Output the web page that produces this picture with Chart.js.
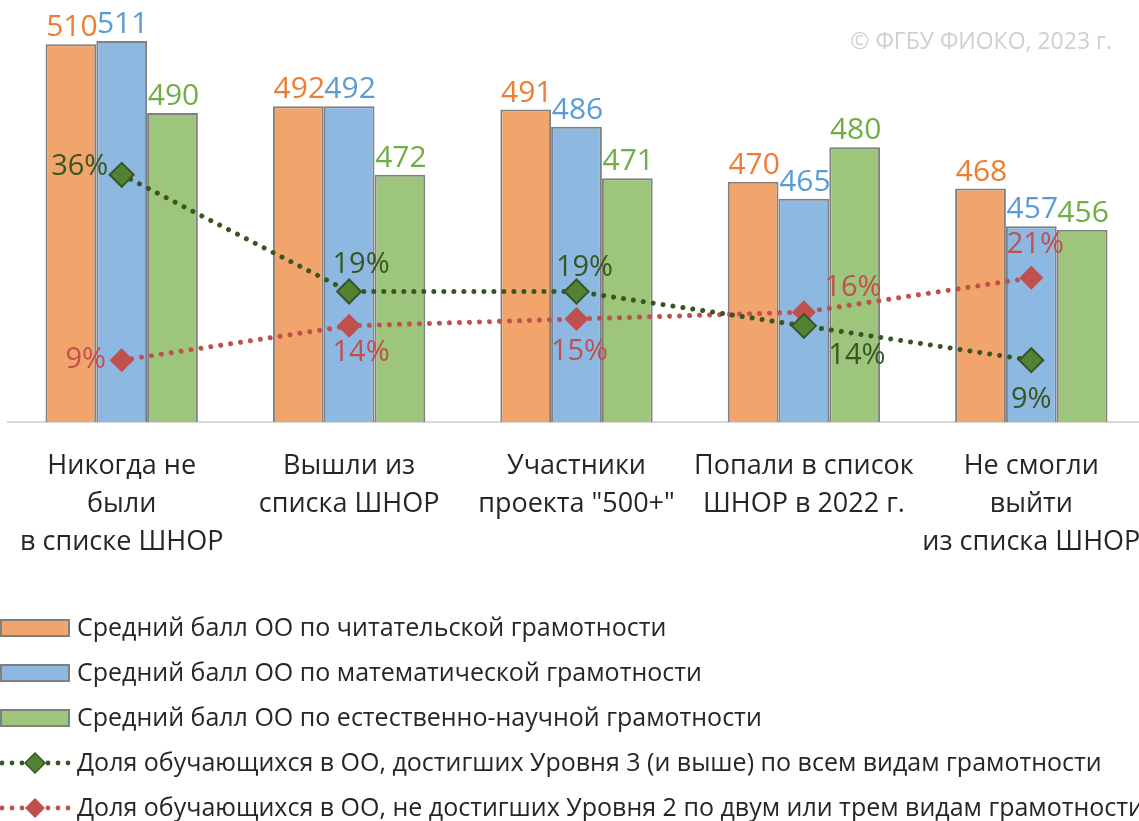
<!DOCTYPE html>
<html><head><meta charset="utf-8">
<script src="https://cdn.jsdelivr.net/npm/chart.js@4.4.0/dist/chart.umd.min.js"></script>
<style>
html,body{margin:0;padding:0;overflow:hidden;background:#fff;width:1139px;height:821px;}
#wrap{position:absolute;left:0;top:0;width:1145px;height:821px;}
</style></head>
<body>
<div id="wrap"><canvas id="c" width="1145" height="821" style="width:1145px;height:821px"></canvas></div>
<script>
const categories = [
  ["Никогда не", "были", "в списке ШНОР"],
  ["Вышли из", "списка ШНОР"],
  ["Участники", "проекта \"500+\""],
  ["Попали в список", "ШНОР в 2022 г."],
  ["Не смогли", "выйти", "из списка ШНОР"]
];
const readingScores = [510, 492, 491, 470, 468];
const mathScores = [511, 492, 486, 465, 457];
const scienceScores = [490, 472, 471, 480, 456];
const level3Share = [36, 19, 19, 14, 9];
const belowLevel2Share = [9, 14, 15, 16, 21];
const seriesNames = [
  "Средний балл ОО по читательской грамотности",
  "Средний балл ОО по математической грамотности",
  "Средний балл ОО по естественно-научной грамотности",
  "Доля обучающихся в ОО, достигших Уровня 3 (и выше) по всем видам грамотности",
  "Доля обучающихся в ОО, не достигших Уровня 2 по двум или трем видам грамотности"
];

const FONT = "'Open Sans', 'Noto Sans', sans-serif";
const barFill = ['#F2A46D', '#8DB8E2', '#9DC57B'];
const valueColors = ['#ED7D31', '#5B9BD5', '#70AD47'];
const greenLine = '#375623', greenFill = '#548235';
const redLine = '#C0504D';
const barBorder = '#808080';

// label offsets (dx, dy for text centre relative to point)
const pctOffsets = {
  3: [[-42, -8], [12, -27], [8, -24], [53, 30], [0, 40]],
  4: [[-36, 0], [12, 27], [3, 33], [49, -24], [4, -33]]
};

const labelPlugin = {
  id: 'labels',
  afterDatasetsDraw(chart) {
    const ctx = chart.ctx;
    ctx.save();
    ctx.textAlign = 'center';
    ctx.textBaseline = 'alphabetic';
    ctx.font = '30px ' + FONT;
    for (let d = 0; d < 3; d++) {
      const meta = chart.getDatasetMeta(d);
      ctx.fillStyle = valueColors[d];
      meta.data.forEach((el, i) => {
        ctx.fillText(String(chart.data.datasets[d].data[i]), el.x + 1, el.y - 8);
      });
    }
    ctx.textBaseline = 'middle';
    ctx.font = '29px ' + FONT;
    for (const d of [3, 4]) {
      const meta = chart.getDatasetMeta(d);
      ctx.fillStyle = d === 3 ? greenLine : redLine;
      meta.data.forEach((el, i) => {
        const o = pctOffsets[d][i];
        ctx.fillText(chart.data.datasets[d].data[i] + '%', el.x + o[0], el.y + o[1]);
      });
    }
    // copyright
    ctx.font = '23px ' + FONT;
    ctx.fillStyle = '#CFCFCF';
    ctx.textAlign = 'right';
    ctx.fillText('© ФГБУ ФИОКО, 2023 г.', 1112, 42);
    // legend
    ctx.textAlign = 'left';
    ctx.font = '25px ' + FONT;
    const ys = [628, 673, 718, 763, 808];
    for (let k = 0; k < 5; k++) {
      const y = ys[k];
      if (k < 3) {
        ctx.fillStyle = barFill[k];
        ctx.fillRect(1, y - 8, 68, 16);
        ctx.strokeStyle = barBorder;
        ctx.lineWidth = 2;
        ctx.strokeRect(1, y - 8, 68, 16);
      } else {
        const col = k === 3 ? greenLine : redLine;
        ctx.fillStyle = col;
        for (const x of [2, 12, 22, 48, 58, 68]) {
          ctx.beginPath(); ctx.arc(x, y, 2.4, 0, Math.PI * 2); ctx.fill();
        }
        ctx.beginPath();
        ctx.moveTo(35, y - 10); ctx.lineTo(45, y); ctx.lineTo(35, y + 10); ctx.lineTo(25, y); ctx.closePath();
        ctx.fillStyle = k === 3 ? greenFill : redLine;
        ctx.fill();
        if (k === 3) { ctx.strokeStyle = greenLine; ctx.lineWidth = 1.5; ctx.stroke(); }
      }
      ctx.fillStyle = '#262626';
      ctx.fillText(seriesNames[k], 77, y + 1);
    }
    ctx.restore();
  }
};

const barDs = (i, data) => ({
  type: 'bar', label: seriesNames[i], data, yAxisID: 'y',
  backgroundColor: barFill[i], borderColor: barBorder, borderWidth: 2,
  borderSkipped: 'bottom', order: 2,
  categoryPercentage: 0.67, barPercentage: 1.0
});
const lineDs = (i, data, col, fill, bw) => ({
  type: 'line', label: seriesNames[i], data, yAxisID: 'y2',
  borderColor: col, borderWidth: 5, borderDash: [0.01, 10], borderCapStyle: 'round',
  pointStyle: 'rectRot', pointRadius: 12, pointBackgroundColor: fill,
  pointBorderColor: col, pointBorderWidth: bw, tension: 0, fill: false, order: 1
});

new Chart(document.getElementById('c'), {
  data: {
    labels: categories,
    datasets: [
      barDs(0, readingScores),
      barDs(1, mathScores),
      barDs(2, scienceScores),
      lineDs(3, level3Share, greenLine, greenFill, 2),
      lineDs(4, belowLevel2Share, redLine, redLine, 0)
    ]
  },
  options: {
    responsive: false, animation: false,
    layout: { autoPadding: false, padding: { left: 8, right: 0, top: 10, bottom: 264 } },
    plugins: { legend: { display: false }, tooltip: { enabled: false } },
    scales: {
      x: {
        type: 'category', offset: true,
        grid: { display: false, drawTicks: false },
        border: { color: '#D9D9D9', width: 2 },
        ticks: { color: '#262626', font: { family: FONT, size: 27, lineHeight: 1.39 }, padding: 26, maxRotation: 0, autoSkip: false },
        afterFit(s) { s.height = 135; s.paddingLeft = 0; s.paddingRight = 0; }
      },
      y: { display: false, min: 400, max: 520 },
      y2: { display: false, min: 0, max: 60, position: 'right' }
    }
  },
  plugins: [labelPlugin]
});
</script>
</body></html>
